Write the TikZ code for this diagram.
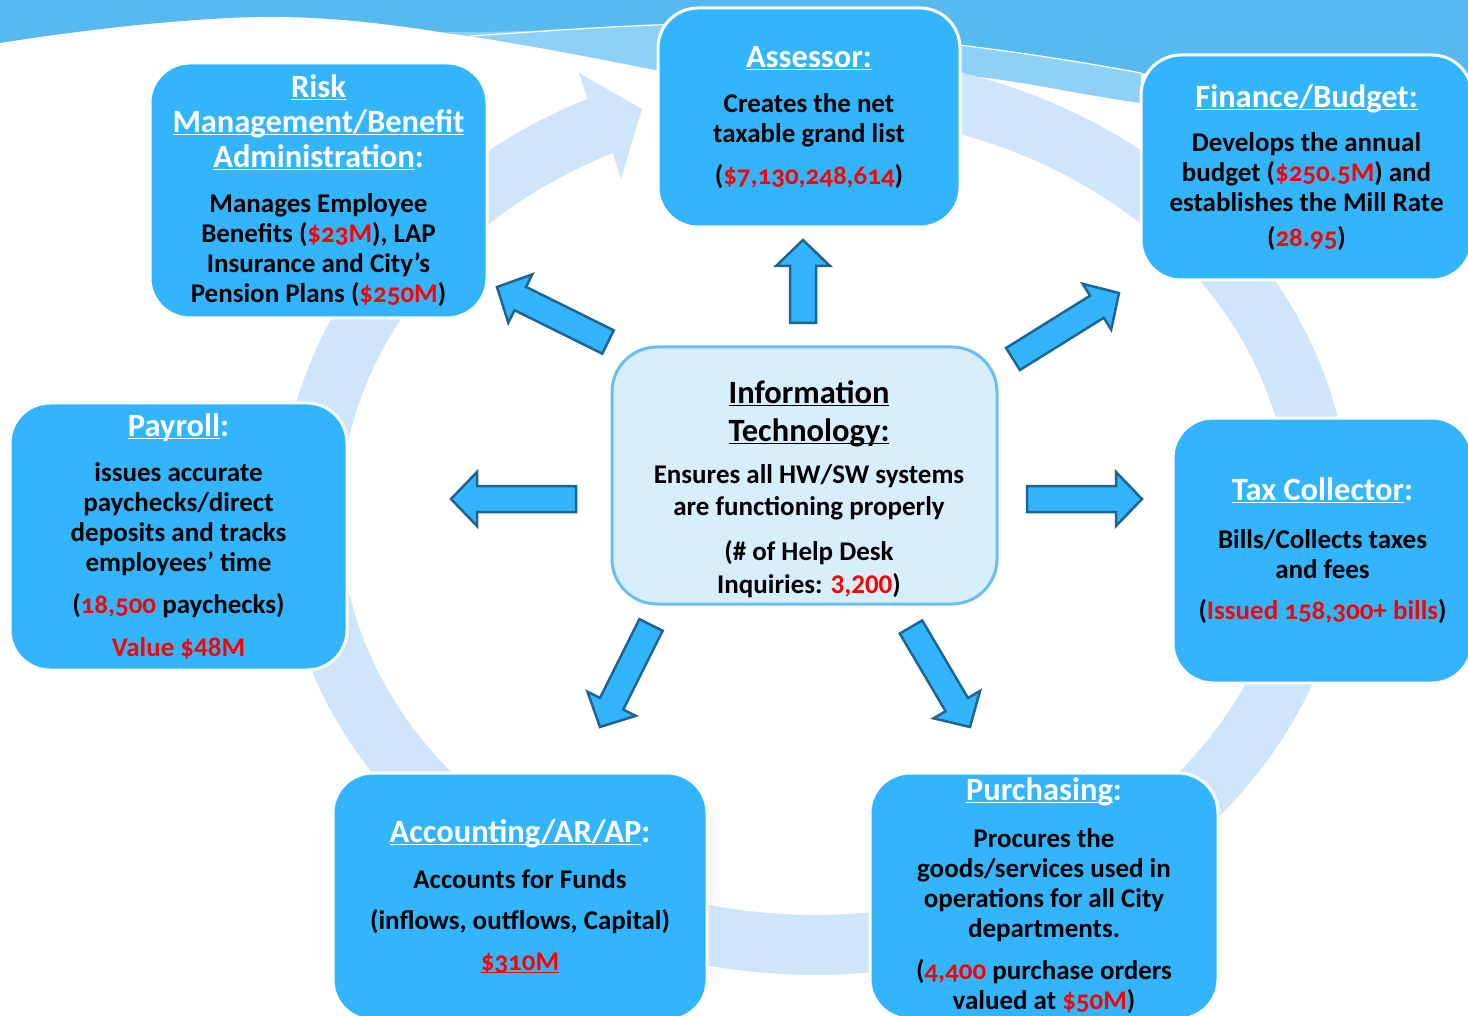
\documentclass[tikz,border=0pt]{standalone}
\usepackage{fontspec}
\setmainfont{Carlito}[Numbers=OldStyle]
\usepackage{tikz}
\usetikzlibrary{calc, positioning}
\definecolor{BoxBlue}{HTML}{33B5FE}
\definecolor{HubFill}{HTML}{D7EEFC}
\definecolor{HubEdge}{HTML}{6ABEF2}
\definecolor{RingBlue}{HTML}{CFE5FC}
\definecolor{TopBlue}{HTML}{56BAF0}
\definecolor{TopLight}{HTML}{8DD1F7}
\definecolor{ArrowEdge}{HTML}{1E6591}
\definecolor{NumRed}{HTML}{FF0000}
\newcommand{\rednum}[1]{\textcolor{NumRed}{#1}}
\newcommand{\uhead}[1]{\setbox0\hbox{#1}\rlap{\rule[-2.5pt]{\wd0}{1pt}}\box0}
\newcommand{\ttl}[1]{{\color{white}\fontsize{32.5}{35}\selectfont #1}}
\newcommand{\lining}[1]{{\addfontfeatures{Numbers=Lining}#1}}
\newcommand{\blockarrow}[2]{%
  \path (#1) coordinate (ba-s) (#2) coordinate (ba-e) ($(ba-e)!26pt!(ba-s)$) coordinate (ba-h);
  \draw[blockarrow] ($(ba-s)!13pt!90:(ba-e)$) -- ($(ba-h)!13pt!90:(ba-e)$) -- ($(ba-h)!27pt!90:(ba-e)$)
    -- (ba-e) -- ($(ba-h)!27pt!-90:(ba-e)$) -- ($(ba-h)!13pt!-90:(ba-e)$) -- ($(ba-s)!13pt!-90:(ba-e)$) -- cycle;}
\tikzset{
  % Box styles
  deptbox/.style={rectangle, rounded corners=40pt, draw=white, line width=3pt, fill=BoxBlue, inner sep=0pt, align=center, font=\fontsize{27}{30}\selectfont\bfseries},
  hubbox/.style={rectangle, rounded corners=45pt, draw=HubEdge, line width=3pt, fill=HubFill, inner sep=0pt},
  hubtext/.style={align=center, inner sep=0pt, font=\fontsize{27}{30}\selectfont\bfseries},
  % Arrow styles
  blockarrow/.style={draw=ArrowEdge, fill=BoxBlue, line width=2.5pt, line join=miter}
}

\begin{document}
\begin{tikzpicture}[x=1pt, y=-1pt]
  \useasboundingbox (0,0) rectangle (1468,1016);

  % Top swoosh
  \fill[TopBlue] (0,0) -- (1468,0) -- (1468,110) -- (1141,73) .. controls (1060,58) and (1000,50) .. (959,45)
    .. controls (850,30) and (740,22) .. (655,25) .. controls (580,28) and (520,33) .. (470,36)
    -- (440,32) .. controls (350,18) and (290,15) .. (229,18) .. controls (150,22) and (70,32) .. (0,43) -- cycle;
  \fill[TopLight] (440,32) .. controls (520,33) and (580,28) .. (655,25) .. controls (740,22) and (850,30) .. (959,45)
    .. controls (1000,50) and (1060,58) .. (1141,73) -- (1141,103) .. controls (1080,95) and (1020,80) .. (959,75)
    .. controls (850,70) and (740,80) .. (655,70) .. controls (580,55) and (500,40) .. (440,32) -- cycle;
  \draw[white, line width=1.2pt] (470,36) .. controls (520,33) and (580,28) .. (655,25)
    .. controls (740,22) and (850,30) .. (959,45) .. controls (1000,50) and (1060,58) .. (1141,73);

  % Cycle ring
  \fill[RingBlue] plot[domain=-100:244.8, samples=140] ({815+535*cos(\x)},{515+460*sin(\x)})
    -- (579,73) -- (642,109) -- (621,179)
    -- plot[domain=244.8:-100, samples=140] ({815+475*cos(\x)},{515+400*sin(\x)}) -- cycle;

  % Departments
  \node[deptbox, minimum width=337pt, minimum height=255pt] (risk) at (318.5,190.5)
    {\ttl{\uhead{Risk}}\\[5pt] \ttl{\uhead{Management/Benefit}}\\[5pt] \ttl{\uhead{Administration}:}\\[15pt]
     Manages Employee\\ Benefits (\rednum{\$23M}), LAP\\ Insurance and City’s\\ Pension Plans (\rednum{\$250M})};
  \node[deptbox, minimum width=302pt, minimum height=219pt] (assessor) at (809,117.5)
    {\ttl{\uhead{Assessor:}}\\[15pt] Creates the net\\ taxable grand list\\[12pt] (\rednum{\$7,130,248,614})};
  \node[deptbox, minimum width=331pt, minimum height=225pt] (finance) at (1306.5,167.5)
    {\ttl{\uhead{Finance/Budget:}}\\[14pt] Develops the annual\\ budget (\rednum{\$250.5M}) and\\ establishes the Mill Rate\\[5pt] (\rednum{28.95})};
  \node[deptbox, minimum width=337pt, minimum height=267pt] (payroll) at (178.5,536.5)
    {\ttl{\uhead{Payroll}:}\\[15pt] issues accurate\\ paychecks/direct\\ deposits and tracks\\ employees’ time\\[12pt]
     (\rednum{18,500} paychecks)\\[13pt] \rednum{\lining{Value \$48M}}};
  \node[deptbox, minimum width=299pt, minimum height=265pt] (tax) at (1322.5,550.5)
    {\ttl{\uhead{Tax Collector}:}\\[18pt] Bills/Collects taxes\\ and fees\\[11pt] (\rednum{Issued 158,300+ bills})};
  \node[deptbox, minimum width=374pt, minimum height=247pt] (accounting) at (520,896.5)
    {\ttl{\uhead{Accounting/AR/AP}:}\\[16pt] Accounts for Funds\\[11pt] (inflows, outflows, Capital)\\[11pt]
     \rednum{\uhead{\$310M}}};
  \node[deptbox, minimum width=348pt, minimum height=246pt] (purchasing) at (1044,896)
    {\ttl{\uhead{Purchasing}:}\\[17pt] Procures the\\ goods/services used in\\ operations for all City\\ departments.\\[12pt]
     (\rednum{4,400} purchase orders\\ valued at \rednum{\$50M})};

  % Hub
  \node[hubbox, minimum width=385pt, minimum height=257pt] (it) at (804.5,475.5) {};
  \node[hubtext] (itText) at (809,489)
    {{\fontsize{32.5}{35}\selectfont\uhead{Information}}\\[8pt] {\fontsize{32.5}{35}\selectfont\uhead{Technology:}}\\[12pt]
     Ensures all HW/SW systems\\[2pt] are functioning properly\\[15pt] (\# of Help Desk\\[3pt] Inquiries: \rednum{\lining{3,200}})};

  % Arrows out of the hub
  \coordinate (up-s) at (803,323);     \coordinate (up-e) at (803,240);
  \coordinate (ul-s) at (608,342);     \coordinate (ul-e) at (497,287);
  \coordinate (left-s) at (576,499);   \coordinate (left-e) at (451,499);
  \coordinate (dl-s) at (651,625);     \coordinate (dl-e) at (600,727);
  \coordinate (dr-s) at (911,627);     \coordinate (dr-e) at (970,727);
  \coordinate (right-s) at (1027,499); \coordinate (right-e) at (1142,499);
  \coordinate (ur-s) at (1013,359);    \coordinate (ur-e) at (1119,293);
  \foreach \a in {up,ul,left,dl,dr,right,ur}
    \blockarrow{\a-s}{\a-e};
\end{tikzpicture}
\end{document}
